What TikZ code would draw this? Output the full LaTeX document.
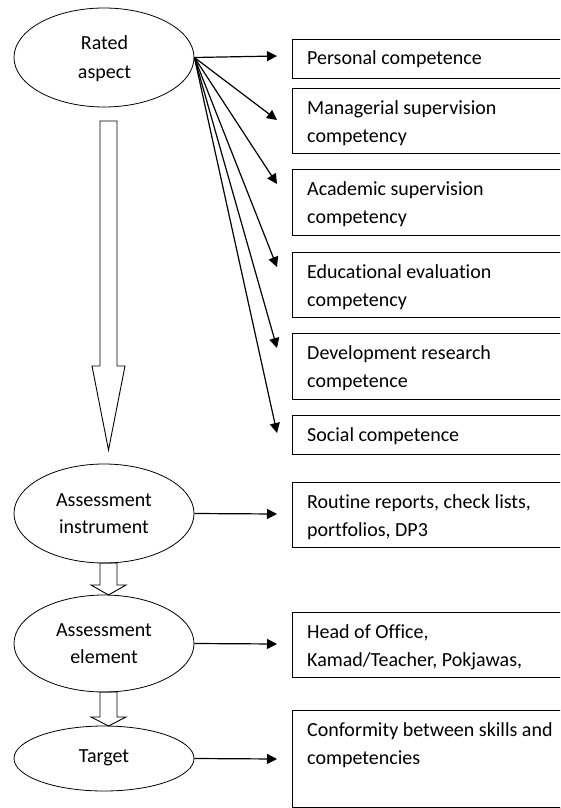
\documentclass[tikz,border=0pt]{standalone}
\usepackage{fontspec}
\setmainfont{Carlito}[Ligatures={NoCommon}]
\usetikzlibrary{shapes.geometric,arrows.meta}
\begin{document}
\begin{tikzpicture}[x=1pt,y=-1pt,
  ell/.style={draw,ellipse,line width=0.8pt,inner sep=0pt,minimum width=180pt},
  boxn/.style={draw,rectangle,line width=1pt,anchor=north west,minimum width=320pt,inner sep=0pt},
  txt/.style={font=\fontsize{20}{28}\selectfont,inner sep=0pt,anchor=base},
  btxt/.style={font=\fontsize{20}{28}\selectfont,inner sep=0pt,anchor=base west},
  arr/.style={line width=1.2pt,-{Triangle[length=10pt,width=10pt]}},
  hollow/.style={draw,line width=0.9pt,fill=white,line join=miter}
]
\useasboundingbox (0,0) rectangle (560,808);
\clip (0,0) rectangle (560,808);

% hollow block arrows
\draw[hollow] (100,121) -- (117,121) -- (117,366) -- (125,366) -- (108.5,450) -- (92,366) -- (100,366) -- cycle;
\draw[hollow] (100,563) -- (117,563) -- (117,585) -- (126,585) -- (108.5,595) -- (91,585) -- (100,585) -- cycle;
\draw[hollow] (100,692) -- (117,692) -- (117,717) -- (126,717) -- (108.5,726) -- (91,717) -- (100,717) -- cycle;

% ellipses
\node[ell,minimum height=99pt] (ra) at (104,57.5) {};
\node[ell,minimum height=99pt] (ai) at (104,513.5) {};
\node[ell,minimum height=97pt] (ae) at (104,643.5) {};
\node[ell,minimum height=65pt] (tg) at (104,758.5) {};

\node[txt] (ra1) at (104.5,50) {Rated};
\node[txt] (ra2) at (104.5,78) {aspect};
\node[txt] (ai1) at (104,506) {Assessment};
\node[txt] (ai2) at (104,533) {instrument};
\node[txt] (ae1) at (104,636) {Assessment};
\node[txt] (ae2) at (104,663) {element};
\node[txt] (tg1) at (104,762) {Target};

% boxes
\node[boxn,minimum height=39pt] (b1) at (292,39) {};
\node[boxn,minimum height=65pt] (b2) at (292,88) {};
\node[boxn,minimum height=66pt] (b3) at (292,169) {};
\node[boxn,minimum height=65pt] (b4) at (292,252) {};
\node[boxn,minimum height=66pt] (b5) at (292,333) {};
\node[boxn,minimum height=39pt] (b6) at (292,415) {};
\node[boxn,minimum height=65pt] (b7) at (292,482) {};
\node[boxn,minimum height=65pt] (b8) at (292,612) {};
\node[boxn,minimum height=97pt] (b9) at (292,710) {};

\node[btxt] (t1) at (307,65) {Personal competence};
\node[btxt] (t2a) at (307,114) {Managerial supervision};
\node[btxt] (t2b) at (307,142.5) {competency};
\node[btxt] (t3a) at (307,195) {Academic supervision};
\node[btxt] (t3b) at (307,223.5) {competency};
\node[btxt] (t4a) at (307,278) {Educational evaluation};
\node[btxt] (t4b) at (307,306.5) {competency};
\node[btxt] (t5a) at (307,359) {Development research};
\node[btxt] (t5b) at (307,387.5) {competence};
\node[btxt] (t6) at (307,441) {Social competence};
\node[btxt] (t7a) at (307,508) {Routine reports, check lists,};
\node[btxt] (t7b) at (307,536.5) {portfolios, DP3};
\node[btxt] (t8a) at (307,638) {Head of Office,};
\node[btxt] (t8b) at (307,666.5) {Kamad/Teacher, Pokjawas,};
\node[btxt] (t9a) at (307,736) {Conformity between skills and};
\node[btxt] (t9b) at (307,764.5) {competencies};

% arrow end points
\coordinate (e1) at (277,56);
\coordinate (e2) at (277,120);
\coordinate (e3) at (277,184);
\coordinate (e4) at (277,267);
\coordinate (e5) at (277,348);
\coordinate (e6) at (277,433);
\coordinate (f7) at (277,514);
\coordinate (f8) at (277,644);
\coordinate (f9) at (277,759);

\foreach \e in {e1,e2,e3,e4,e5,e6}
  \draw[arr] (ra.east) -- (\e);
\draw[arr] (ai.east) -- (f7);
\draw[arr] (ae.east) -- (f8);
\draw[arr] (tg.east) -- (f9);
\end{tikzpicture}
\end{document}
